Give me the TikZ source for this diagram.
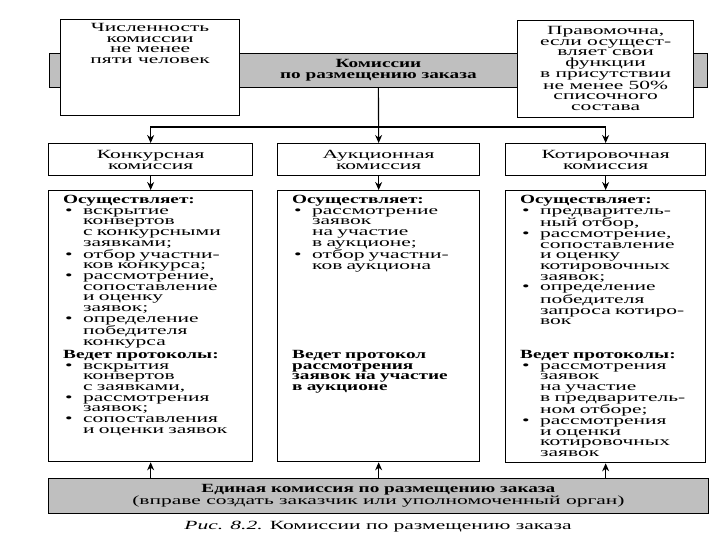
\documentclass[tikz,border=0pt]{standalone}
\usepackage{fontspec}
\setmainfont{Liberation Serif}[FakeStretch=1.72]
\newfontfamily\hdfont{Liberation Serif Bold}[FakeStretch=1.54]
\usetikzlibrary{arrows.meta}
\newcommand\bul{\par\noindent\hangindent=20pt\hangafter=1\makebox[20pt][l]{\hspace{2pt}•}}
\begin{document}
\begin{tikzpicture}[x=1pt,y=-1pt,
  box/.style={draw,line width=1.3pt,fill=white,inner sep=0pt,anchor=north west},
  greybar/.style={draw,line width=0.8pt,fill=black!25,inner sep=0pt,anchor=north west},
  txt/.style={font=\fontsize{12.5}{10.7}\selectfont,align=center,inner sep=0pt},
  list/.style={txt,align=left,text width=200pt,anchor=north west},
  arr/.style={line width=1.1pt,-{Stealth[length=8pt,width=7pt]}}]
  \useasboundingbox (0,0) rectangle (720,540);
  \node[greybar,minimum width=658pt,minimum height=34pt] (orgbar) at (49,53) {};
  \node[box,minimum width=179pt,minimum height=96pt] (sizebox) at (60,19) {};
  \node[box,minimum width=176pt,minimum height=97pt] (quorbox) at (517,20) {};
  \node[txt,anchor=north] (sizetxt) at (sizebox.north |- 0,23)
    {Численность\\комиссии\\не менее\\пяти человек};
  \node[txt,anchor=north] (quortxt) at (quorbox.north |- 0,26)
    {Правомочна,\\если осущест-\\вляет свои\\функции\\в присутствии\\не менее 50\%\\списочного\\состава};
  \node[txt,font=\hdfont\fontsize{12.5}{10.7}\selectfont] (orgtxt) at (orgbar.center)
    {Комиссии\\по размещению заказа};
  \node[box,minimum width=204pt,minimum height=32pt] (konk) at (48,143) {};
  \node[box,minimum width=202pt,minimum height=32pt] (auct) at (277,143) {};
  \node[box,minimum width=200pt,minimum height=32pt] (kotir) at (505,143) {};
  \node[txt] (konktxt) at (konk.center) {Конкурсная\\комиссия};
  \node[txt] (aucttxt) at (auct.center) {Аукционная\\комиссия};
  \node[txt] (kotirtxt) at (kotir.center) {Котировочная\\комиссия};
  \node[box,minimum width=204pt,minimum height=271pt] (konkbody) at (48,190) {};
  \node[box,minimum width=202pt,minimum height=271pt] (auctbody) at (277,190) {};
  \node[box,minimum width=200pt,minimum height=272pt] (kotirbody) at (505,190) {};
  \node[list] (konkdo) at (63,195) {{\hdfont Осуществляет:}
    \bul вскрытие\newline конвертов\newline с конкурсными\newline заявками;
    \bul отбор участни-\newline ков конкурса;
    \bul рассмотрение,\newline сопоставление\newline и оценку\newline заявок;
    \bul определение\newline победителя\newline конкурса\par};
  \node[list] (konkrec) at (63,350) {{\hdfont Ведет протоколы:}
    \bul вскрытия\newline конвертов\newline с заявками,
    \bul рассмотрения\newline заявок;
    \bul сопоставления\newline и оценки заявок\par};
  \node[list] (auctdo) at (292,195) {{\hdfont Осуществляет:}
    \bul рассмотрение\newline заявок\newline на участие\newline в аукционе;
    \bul отбор участни-\newline ков аукциона\par};
  \node[list,font=\hdfont\fontsize{12.5}{10.7}\selectfont] (auctrec) at (292,350)
    {Ведет протокол\\рассмотрения\\заявок на участие\\в аукционе};
  \node[list] (kotirdo) at (520,195) {{\hdfont Осуществляет:}
    \bul предваритель-\newline ный отбор,
    \bul рассмотрение,\newline сопоставление\newline и оценку\newline котировочных\newline заявок;
    \bul определение\newline победителя\newline запроса котиро-\newline вок\par};
  \node[list] (kotirrec) at (520,350) {{\hdfont Ведет протоколы:}
    \bul рассмотрения\newline заявок\newline на участие\newline в предваритель-\newline ном отборе;
    \bul рассмотрения\newline и оценки\newline котировочных\newline заявок\par};
  \node[greybar,minimum width=660pt,minimum height=35pt] (unibar) at (48,478) {};
  \node[txt] (unitxt) at (unibar.center)
    {{\hdfont Единая комиссия по размещению заказа}\\(вправе создать заказчик или уполномоченный орган)};
  \node[txt] (caption) at (378,527) {\textit{Рис. 8.2.} Комиссии по размещению заказа};
  \coordinate (split) at (378,127);
  \draw[arr] (orgbar.south) -- (auct.north);
  \draw[arr] (split) -| (konk.north);
  \draw[arr] (split) -| (kotir.north);
  \draw[arr] (konk.south) -- (konkbody.north);
  \draw[arr] (auct.south) -- (auctbody.north);
  \draw[arr] (kotir.south) -- (kotirbody.north);
  \draw[arr] (unibar.north -| konkbody.south) -- (konkbody.south);
  \draw[arr] (unibar.north -| auctbody.south) -- (auctbody.south);
  \draw[arr] (unibar.north -| kotirbody.south) -- (kotirbody.south);
\end{tikzpicture}
\end{document}
